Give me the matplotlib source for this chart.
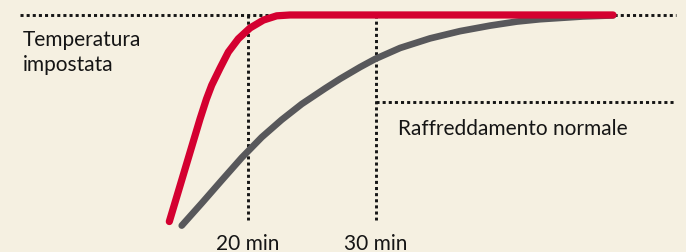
import matplotlib
matplotlib.use("Agg")
import matplotlib.pyplot as plt

# ------------------------------------------------------------------#
# Data (minutes vs. % of set temperature)
# ------------------------------------------------------------------#
fast_t = [13.85, 15.08, 16.25, 16.75, 17.16, 17.81, 18.46, 19.24, 20.16,
          21.20, 22.24, 23.28, 48.52]
fast_T = [3.0, 27.7, 51.2, 60.5, 67.0, 75.0, 82.6, 88.8, 93.9,
          97.6, 99.6, 100.0, 100.0]

normal_t = [14.82, 16.38, 17.95, 19.51, 21.07, 22.63, 24.20, 26.02,
            27.19, 28.75, 29.92, 31.88, 34.22, 36.56, 38.91, 41.0,
            42.81, 46.17, 48.52]
normal_T = [1.1, 11.6, 22.4, 33.0, 42.6, 50.8, 58.2, 65.5,
            70.0, 75.5, 79.3, 84.5, 89.0, 92.4, 95.0, 96.9,
            98.0, 99.3, 99.8]

marker_t = [20, 30]
marker_labels = ["20 min", "30 min"]

set_level = 100.0
normal_level = 59.2   # level of the "Raffreddamento normale" guide

BG = "#f5f0e1"
RED = "#d40030"
GREY = "#58585b"
INK = "#151515"

fig = plt.figure(figsize=(6.86, 2.53), dpi=100, facecolor=BG)
ax = fig.add_axes([0, 0, 1, 1])
ax.set_facecolor(BG)
ax.set_xlim(0.62, 54.22)
ax.set_ylim(-11.3, 107.5)
ax.axis("off")

dot = dict(color=INK, lw=2.1, linestyle=(0, (1.05, 1.05)), dash_capstyle="butt")

# guide lines
ax.plot([2.19, 53.44], [set_level, set_level], **dot, zorder=1)
for t in marker_t:
    ax.plot([t, t], [set_level, 3.8], **dot, zorder=1)
ax.plot([marker_t[1], 53.44], [normal_level, normal_level], **dot, zorder=1)

# curves
ax.plot(normal_t, normal_T, color=GREY, lw=4.8, solid_capstyle="round",
        solid_joinstyle="round", zorder=2)
ax.plot(fast_t, fast_T, color=RED, lw=5.2, solid_capstyle="round",
        solid_joinstyle="round", zorder=3)

font = "Lato"
fs = 15
ax.text(2.42, 85.9, "Temperatura", family=font, fontsize=fs,
        color=INK, ha="left", va="baseline")
ax.text(2.42, 74.2, "impostata", family=font, fontsize=fs,
        color=INK, ha="left", va="baseline")
ax.text(31.72, 44.1, "Raffreddamento normale", family=font, fontsize=fs,
        color=INK, ha="left", va="baseline")
for t, lab in zip(marker_t, marker_labels):
    ax.text(t, -9.9, lab, family=font, fontsize=fs, color=INK,
            ha="center", va="baseline")

fig.savefig("out.png", dpi=100, facecolor=BG)
